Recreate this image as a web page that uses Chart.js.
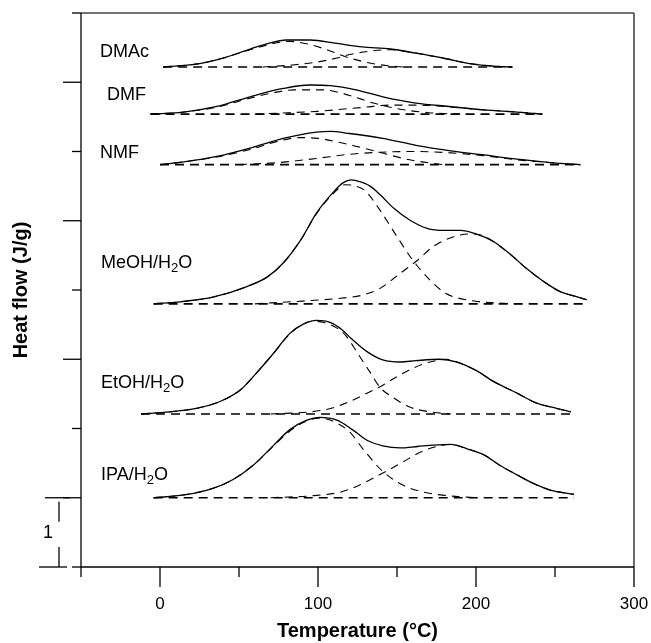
<!DOCTYPE html>
<html>
<head>
<meta charset="utf-8">
<script src="https://cdn.jsdelivr.net/npm/chart.js@4.4.1/dist/chart.umd.min.js"></script>
<style>
  html, body { margin: 0; padding: 0; background: #fff; }
  canvas { display: block; }
</style>
</head>
<body>
<canvas id="dsc" width="651" height="643"></canvas>
<script>
// temperature (°C), stacked heat flow (J/g, offset per solvent)
const dmacBase  = [[2, 7.22], [223, 7.22]];
const dmacTotal = [[2,7.22],[25,7.27],[40,7.35],[57,7.48],[67,7.55],[80,7.61],[95,7.61],[112,7.56],[128,7.51],[146,7.48],[162,7.42],[179,7.35],[196,7.27],[213,7.23],[223,7.22]];
const dmacPeak1 = [[2,7.22],[25,7.27],[40,7.35],[57,7.47],[70,7.55],[82,7.59],[92,7.56],[103,7.49],[120,7.35],[137,7.26],[154,7.22]];
const dmacPeak2 = [[65,7.22],[84,7.25],[99,7.29],[112,7.35],[120,7.40],[133,7.45],[146,7.47],[162,7.42],[179,7.35],[196,7.27],[213,7.23],[223,7.22]];

const dmfBase  = [[-6, 6.54], [242, 6.54]];
const dmfTotal = [[-6,6.54],[15,6.57],[36,6.65],[57,6.79],[78,6.91],[95,6.96],[108,6.95],[124,6.89],[141,6.79],[162,6.70],[183,6.65],[205,6.60],[226,6.57],[242,6.54]];
const dmfPeak1 = [[-6,6.54],[15,6.57],[36,6.64],[57,6.77],[72,6.85],[85,6.89],[103,6.89],[120,6.81],[135,6.70],[150,6.62],[170,6.56],[190,6.54]];
const dmfPeak2 = [[60,6.54],[81,6.56],[100,6.58],[115,6.61],[130,6.64],[145,6.67],[162,6.67],[180,6.65],[205,6.60],[226,6.57],[242,6.54]];

const nmfBase  = [[0, 5.81], [266, 5.81]];
const nmfTotal = [[0,5.81],[15,5.85],[36,5.93],[57,6.05],[78,6.19],[99,6.28],[108,6.29],[120,6.26],[141,6.19],[162,6.09],[184,6.01],[205,5.95],[226,5.89],[247,5.84],[266,5.81]];
const nmfPeak1 = [[0,5.81],[15,5.85],[36,5.92],[57,6.03],[75,6.15],[88,6.20],[100,6.19],[112,6.14],[125,6.07],[137,6.00],[158,5.88],[179,5.81]];
const nmfPeak2 = [[50,5.81],[75,5.84],[99,5.90],[120,5.96],[140,5.99],[160,6.00],[184,5.98],[205,5.94],[226,5.88],[247,5.84],[266,5.81]];

const meohBase  = [[-4, 3.80], [270, 3.80]];
const meohTotal = [[-4,3.80],[13,3.83],[34,3.90],[55,4.05],[68,4.19],[78,4.39],[89,4.72],[99,5.11],[110,5.42],[116,5.55],[121,5.59],[127,5.56],[133,5.50],[140,5.36],[148,5.18],[158,5.01],[169,4.89],[180,4.86],[190,4.86],[200,4.81],[211,4.70],[222,4.51],[232,4.31],[243,4.12],[253,3.98],[264,3.90],[270,3.86]];
const meohPeak1 = [[-4,3.80],[13,3.83],[34,3.90],[55,4.05],[68,4.19],[78,4.39],[89,4.72],[99,5.10],[110,5.40],[117,5.52],[124,5.50],[130,5.43],[139,5.16],[150,4.77],[160,4.43],[171,4.14],[181,3.95],[196,3.85],[215,3.81],[230,3.80]];
const meohPeak2 = [[60,3.80],[90,3.84],[114,3.88],[127,3.92],[139,4.02],[152,4.24],[163,4.43],[173,4.63],[186,4.77],[196,4.81],[205,4.78],[211,4.70],[222,4.51],[232,4.31],[243,4.12],[253,3.98],[264,3.90],[270,3.86]];

const etohBase  = [[-12, 2.21], [260, 2.21]];
const etohTotal = [[-12,2.21],[6,2.24],[23,2.29],[38,2.39],[51,2.56],[61,2.80],[72,3.09],[82,3.37],[91,3.51],[99,3.56],[108,3.53],[115,3.43],[121,3.30],[131,3.11],[141,2.99],[152,2.96],[162,2.98],[177,3.00],[188,2.96],[200,2.84],[211,2.68],[226,2.51],[238,2.37],[251,2.29],[260,2.24]];
const etohPeak1 = [[-12,2.21],[6,2.24],[23,2.29],[38,2.39],[51,2.56],[61,2.80],[72,3.09],[82,3.36],[90,3.50],[97,3.55],[104,3.53],[112,3.45],[118,3.33],[125,3.09],[133,2.81],[139,2.60],[148,2.44],[158,2.31],[171,2.24],[184,2.21]];
const etohPeak2 = [[70,2.21],[95,2.24],[108,2.29],[120,2.39],[131,2.51],[139,2.60],[150,2.75],[160,2.87],[171,2.96],[181,3.00],[188,2.96],[200,2.84],[211,2.68],[226,2.51],[238,2.37],[251,2.29],[260,2.24]];

const ipaBase  = [[-4, 1.00], [262, 1.00]];
const ipaTotal = [[-4,1.00],[15,1.04],[34,1.14],[46,1.26],[59,1.47],[72,1.76],[82,1.98],[93,2.12],[101,2.16],[112,2.12],[122,1.98],[131,1.83],[141,1.75],[152,1.72],[163,1.74],[173,1.76],[184,1.77],[194,1.71],[205,1.62],[215,1.47],[226,1.33],[236,1.21],[247,1.11],[262,1.05]];
const ipaPeak1 = [[-4,1.00],[15,1.04],[34,1.14],[46,1.26],[59,1.47],[72,1.75],[82,1.96],[92,2.10],[101,2.15],[110,2.10],[120,1.95],[129,1.69],[141,1.38],[154,1.18],[167,1.08],[182,1.03],[200,1.00]];
const ipaPeak2 = [[70,1.00],[97,1.03],[114,1.08],[124,1.16],[133,1.26],[143,1.38],[154,1.52],[165,1.66],[175,1.74],[184,1.77],[194,1.71],[205,1.62],[215,1.47],[226,1.33],[236,1.21],[247,1.11],[262,1.05]];

const xMajorTicks = [0, 100, 200, 300];
const xMinorTicks = [-50, 50, 150, 250];
const yTicks = [0, 1, 2, 3, 4, 5, 6, 7, 8];

// label text (parts: normal, subscript, normal) and where it sits (°C, J/g)
const samples = [
  { text: ['DMAc'],           at: [-38, 7.365], base: dmacBase, total: dmacTotal, peaks: [dmacPeak1, dmacPeak2] },
  { text: ['DMF'],            at: [-33.5, 6.744], base: dmfBase, total: dmfTotal, peaks: [dmfPeak1, dmfPeak2] },
  { text: ['NMF'],            at: [-38, 5.906], base: nmfBase, total: nmfTotal, peaks: [nmfPeak1, nmfPeak2] },
  { text: ['MeOH/H','2','O'], at: [-37.3, 4.318], base: meohBase, total: meohTotal, peaks: [meohPeak1, meohPeak2] },
  { text: ['EtOH/H','2','O'], at: [-37.3, 2.585], base: etohBase, total: etohTotal, peaks: [etohPeak1, etohPeak2] },
  { text: ['IPA/H','2','O'],  at: [-37.3, 1.256], base: ipaBase, total: ipaTotal, peaks: [ipaPeak1, ipaPeak2] },
];

const xy = pts => pts.map(p => ({ x: p[0], y: p[1] }));
const datasets = [];
samples.forEach(s => {
  datasets.push({ data: xy(s.base), borderDash: [9, 6], borderWidth: 1.6 });
  s.peaks.forEach(p => datasets.push({ data: xy(p), borderDash: [8, 6], borderWidth: 1.1 }));
  datasets.push({ data: xy(s.total), borderWidth: 1.3 });
});
datasets.forEach(d => Object.assign(d, {
  borderColor: '#000', pointRadius: 0, fill: false, cubicInterpolationMode: 'monotone'
}));

const FONT = '"Liberation Sans", Arial, Helvetica, sans-serif';

const axesPlugin = {
  id: 'axes',
  afterDraw(chart) {
    const { ctx, chartArea: a } = chart;
    const x = chart.scales.x, y = chart.scales.y;
    const seg = (x1, y1, x2, y2) => { ctx.beginPath(); ctx.moveTo(x1, y1); ctx.lineTo(x2, y2); ctx.stroke(); };
    ctx.save();
    ctx.lineCap = 'butt';
    ctx.strokeStyle = '#444';
    ctx.lineWidth = 1.6;
    seg(a.left, a.top, a.right, a.top);
    seg(a.right, a.top, a.right, a.bottom);
    ctx.strokeStyle = '#000';
    ctx.lineWidth = 1.3;
    seg(a.left, a.top, a.left, a.bottom);
    seg(a.left, a.bottom, a.right, a.bottom);

    // x ticks point down
    xMajorTicks.forEach(v => { const px = x.getPixelForValue(v); seg(px, a.bottom, px, a.bottom + 20); });
    xMinorTicks.forEach(v => { const px = x.getPixelForValue(v); seg(px, a.bottom, px, a.bottom + 10); });
    // y ticks point left, odd ones longer
    yTicks.forEach(v => { const py = y.getPixelForValue(v); seg(a.left - (v % 2 ? 18 : 9), py, a.left, py); });

    ctx.fillStyle = '#000';
    ctx.font = '17px ' + FONT;
    ctx.textAlign = 'center';
    ctx.textBaseline = 'top';
    xMajorTicks.forEach(v => ctx.fillText(String(v), x.getPixelForValue(v), a.bottom + 29));

    // scale bar: 1 J/g
    const bx = a.left - 22, b0 = y.getPixelForValue(0), b1 = y.getPixelForValue(1);
    seg(bx - 20, b0, bx + 8, b0);
    seg(bx - 14, b1, bx + 11, b1);
    seg(bx, b1 + 4, bx, b1 + 24);
    seg(bx, b0 - 20, bx, b0);
    ctx.font = '18px ' + FONT;
    ctx.textBaseline = 'middle';
    ctx.fillText('1', bx - 11, (b0 + b1) / 2 + 1);

    // axis titles
    ctx.font = 'bold 20px ' + FONT;
    ctx.textBaseline = 'alphabetic';
    ctx.fillText('Temperature (°C)', (a.left + a.right) / 2, 637);
    ctx.save();
    ctx.translate(27, (a.top + a.bottom) / 2);
    ctx.rotate(-Math.PI / 2);
    ctx.fillText('Heat flow (J/g)', 0, 0);
    ctx.restore();

    // solvent labels
    ctx.textAlign = 'left';
    samples.forEach(s => {
      let px = x.getPixelForValue(s.at[0]);
      const py = y.getPixelForValue(s.at[1]);
      s.text.forEach((t, i) => {
        const sub = i === 1;
        ctx.font = (sub ? '13px ' : '18px ') + FONT;
        ctx.fillText(t, px, py + (sub ? 4 : 0));
        px += ctx.measureText(t).width;
      });
    });
    ctx.restore();
  }
};

new Chart(document.getElementById('dsc'), {
  type: 'line',
  data: { datasets },
  options: {
    responsive: false,
    animation: false,
    layout: { padding: { left: 81, top: 13, right: 17, bottom: 76 } },
    plugins: { legend: { display: false }, tooltip: { enabled: false } },
    scales: {
      x: { type: 'linear', min: -50, max: 300, display: false },
      y: { type: 'linear', min: 0, max: 8, display: false }
    }
  },
  plugins: [axesPlugin]
});
</script>
</body>
</html>
